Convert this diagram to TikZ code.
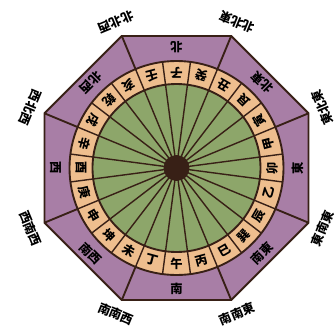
\documentclass[tikz,border=0pt]{standalone}
\usepackage{fontspec}
\usepackage{tikz}
\newfontfamily\jpfont{Noto Sans CJK JP}
\definecolor{octpurple}{RGB}{168,126,166}
\definecolor{ringtan}{RGB}{238,190,142}
\definecolor{discgreen}{RGB}{141,166,106}
\definecolor{darkline}{RGB}{56,32,22}
\tikzset{
	kanji/.style={font=\jpfont\bfseries\fontsize{10.5}{10.5}\selectfont,inner sep=0pt},
	spoke/.style={line width=1.2pt,draw=darkline},
	rim/.style={line width=1.6pt,draw=darkline}
}

\begin{document}
\begin{tikzpicture}[x=0.03cm,y=0.03cm]
	\useasboundingbox (-176.5,-159) rectangle (158.5,168);
	% outer octagon
	\draw[rim,fill=octpurple] (22.5:142.9) \foreach \a in {67.5,112.5,...,337.5}{ -- (\a:142.9)} -- cycle;
	\foreach \a in {22.5,67.5,...,337.5}
		\draw[rim] (\a:107) -- (\a:142.9);
	% ring and disc
	\fill[ringtan] (0,0) circle[radius=107];
	\fill[discgreen] (0,0) circle[radius=84];
	\foreach \a in {7.5,22.5,...,352.5}
		\draw[spoke] (0,0) -- (\a:107);
	\draw[rim] (0,0) circle[radius=107];
	\draw[rim] (0,0) circle[radius=84];
	\fill[darkline] (0,0) circle[radius=13];
	% 24 directions
	\foreach \ch [count=\k from 0] in {子,癸,丑,艮,寅,甲,卯,乙,辰,巽,巳,丙,午,丁,未,坤,申,庚,酉,辛,戌,乾,亥,壬}
		\node[kanji,rotate={180-15*\k}] (dir\k) at ({90-15*\k}:95.5) {\ch};
	% 8 directions
	\foreach \ch [count=\k from 0] in {北,北東,東,南東,南,南西,西,北西}
		\node[kanji,rotate={180-45*\k}] (oct\k) at ({90-45*\k}:121) {\ch};
	% 16 directions outside
	\foreach \ch [count=\k from 0] in {北北東,東北東,東南東,南南東,南南西,西南西,西北西,北北西}
		\node[kanji,rotate={157.5-45*\k}] (out\k) at ({67.5-45*\k}:158) {\ch};
\end{tikzpicture}
\end{document}
